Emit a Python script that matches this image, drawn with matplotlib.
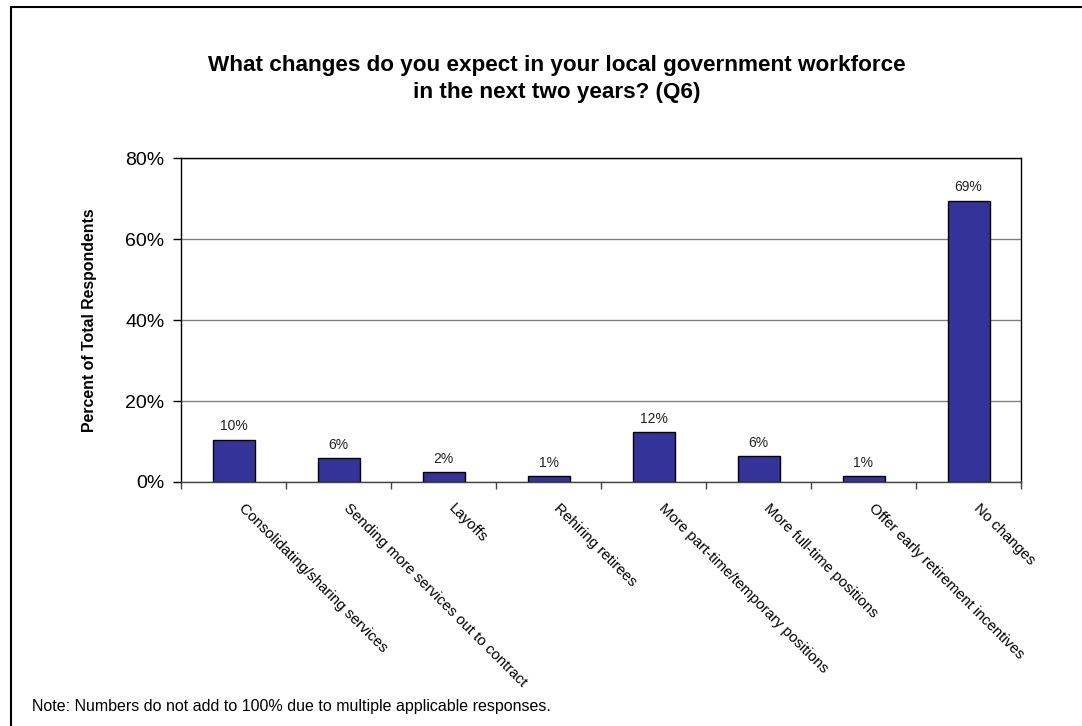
import matplotlib.pyplot as plt
from matplotlib.patches import Rectangle
from matplotlib.transforms import ScaledTranslation
import numpy as np

plt.rcParams['font.family'] = ['Liberation Sans', 'DejaVu Sans']

categories = ['Consolidating/sharing services',
              'Sending more services out to contract',
              'Layoffs',
              'Rehiring retirees',
              'More part-time/temporary positions',
              'More full-time positions',
              'Offer early retirement incentives',
              'No changes']
percents = [10.4, 5.9, 2.4, 1.4, 12.3, 6.4, 1.4, 69.4]
yticks = [0, 20, 40, 60, 80]

fig = plt.figure(figsize=(10.82, 7.26), dpi=100)
ax = fig.add_axes([181 / 1082, 1 - 482 / 726, 840 / 1082, 324 / 726])

x = np.arange(len(categories))
ax.bar(x, percents, width=0.4, color='#333399', edgecolor='black', linewidth=1, zorder=3)
for xi, v in zip(x, percents):
    ax.text(xi, v + 1.6, f'{v:.0f}%', ha='center', va='bottom', fontsize=10, color='#222222')

ax.set_xlim(-0.5, len(categories) - 0.5)
ax.set_ylim(0, 80)
ax.set_yticks(yticks)
ax.set_yticklabels([f'{t}%' for t in yticks], fontsize=14)
ax.yaxis.grid(True, color='#808080', linewidth=1, zorder=0)

# category labels at bar centres, tick marks at category boundaries
ax.set_xticks(x)
ax.set_xticklabels(categories, rotation=-45, ha='left', va='top',
                   rotation_mode='anchor', fontsize=10.8)
ax.tick_params(axis='x', which='major', length=0, pad=14)
shift = ScaledTranslation(0.12, 0, fig.dpi_scale_trans)
for lab in ax.get_xticklabels():
    lab.set_transform(lab.get_transform() + shift)
ax.set_xticks(np.arange(-0.5, len(categories)), minor=True)
ax.tick_params(axis='x', which='minor', length=5, width=1, color='#444444', direction='out')
ax.tick_params(axis='y', length=6, width=1, direction='out', pad=6)

for s in ax.spines.values():
    s.set_color('black')
    s.set_linewidth(1)
    s.set_zorder(4)
ax.spines['bottom'].set_color('#444444')

ax.set_ylabel('Percent of Total Respondents', fontsize=11.4, fontweight='bold', labelpad=20)

fig.text(0.515, 1 - 79 / 726, 'What changes do you expect in your local government workforce\n'
         'in the next two years? (Q6)', ha='center', va='center',
         fontsize=16.2, fontweight='bold', linespacing=1.38)

fig.text(32 / 1082, 1 - 707 / 726,
         'Note: Numbers do not add to 100% due to multiple applicable responses.',
         ha='left', va='center', fontsize=11.5)

# chart border, running off the right and bottom edges
fig.patches.append(Rectangle((11 / 1082, -0.05), 1.1, 1 - 7 / 726 + 0.05,
                             transform=fig.transFigure, fill=False,
                             edgecolor='black', linewidth=1.5))

fig.savefig('out.png', dpi=100)
